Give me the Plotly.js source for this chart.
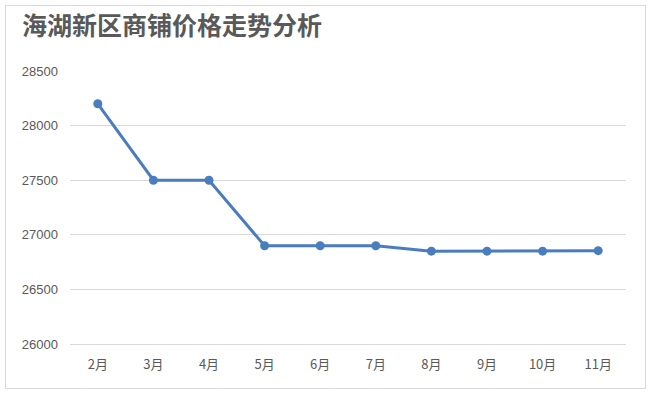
<!DOCTYPE html>
<html>
<head>
<meta charset="utf-8">
<script src="https://cdn.plot.ly/plotly-3.0.1.min.js"></script>
<style>
html,body{margin:0;padding:0;background:#fff;}
#wrap{position:relative;width:650px;height:393px;}
#chart{width:650px;height:393px;}
#frame{position:absolute;left:5px;top:5px;width:639px;height:382px;border:1px solid #d9d9d9;pointer-events:none;}
</style>
</head>
<body>
<div id="wrap"><div id="chart"></div><div id="frame"></div></div>
<script>
const months = ["2月","3月","4月","5月","6月","7月","8月","9月","10月","11月"];
const prices = [28200, 27500, 27500, 26900, 26900, 26900, 26850, 26850, 26850, 26855];
const yTicks = [26000, 26500, 27000, 27500, 28000, 28500];
const chartTitle = "海湖新区商铺价格走势分析";

const trace = {
  x: months,
  y: prices,
  type: "scatter",
  mode: "lines+markers",
  line: {color: "#4a7cc0", width: 3},
  marker: {color: "#4a7cc0", size: 9},
  hoverinfo: "x+y"
};

const layout = {
  width: 650,
  height: 393,
  paper_bgcolor: "#fff",
  plot_bgcolor: "#fff",
  margin: {l: 70, r: 24, t: 71, b: 49},
  showlegend: false,
  title: {
    text: chartTitle,
    x: 22/650, xref: "container", xanchor: "left",
    y: 1, yref: "container", yanchor: "top",
    pad: {t: 17},
    font: {family: "Noto Sans CJK SC", size: 25, color: "#595959", weight: "bold"}
  },
  xaxis: {
    type: "category",
    range: [-0.5, months.length - 0.5],
    automargin: false,
    showgrid: false,
    zeroline: false,
    showline: true,
    linecolor: "#d9d9d9",
    linewidth: 1,
    ticks: "",
    tickfont: {family: "Noto Sans CJK SC, Liberation Sans", size: 13, color: "#595959"},
    ticklabelstandoff: 8
  },
  yaxis: {
    automargin: false,
    range: [26000, 28500],
    tickvals: yTicks,
    ticktext: yTicks.map(String),
    showgrid: true,
    gridcolor: "#d9d9d9",
    gridwidth: 1,
    zeroline: false,
    showline: false,
    ticks: "",
    tickfont: {family: "Liberation Sans", size: 13, color: "#595959"},
    ticklabelstandoff: 11
  }
};

Plotly.newPlot("chart", [trace], layout, {displayModeBar: false, staticPlot: true});
</script>
</body>
</html>
